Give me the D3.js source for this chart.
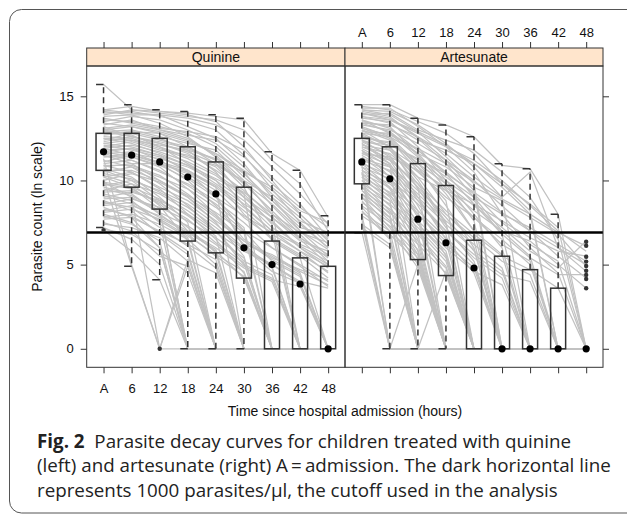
<!DOCTYPE html>
<html>
<head>
<meta charset="utf-8">
<script src="https://cdn.jsdelivr.net/npm/d3@7"></script>
<style>
  body { margin: 0; background: #fff; }
  svg { display: block; }
</style>
</head>
<body>
<svg id="chart" width="627" height="514"></svg>
<script>
// time points (hours since admission)
const times = ['A', '6', '12', '18', '24', '30', '36', '42', '48'];
const yTicks = [0, 5, 10, 15];
const cutoff = 6.91; // ln(1000 parasites/ul)

// box stats, quinine
const quinineLow  = [7.2, 4.9, 4.1, 0, 0, 0, 0, 0, 0];
const quinineQ1   = [10.6, 9.6, 8.3, 6.4, 5.7, 4.2, 0, 0, 0];
const quinineMed  = [11.7, 11.5, 11.1, 10.2, 9.2, 6.0, 5.0, 3.85, 0];
const quinineQ3   = [12.8, 12.8, 12.5, 12.0, 11.1, 9.6, 6.4, 5.4, 4.9];
const quinineHigh = [15.7, 14.5, 14.2, 14.1, 13.9, 13.7, 11.7, 10.6, 7.9];
const quinineOut  = [['A', 7.05], ['12', 0]];

// box stats, artesunate
const artesunateLow  = [6.9, 0, 0, 0, 0, 0, 0, 0, 0];
const artesunateQ1   = [9.8, 6.9, 5.3, 4.35, 0, 0, 0, 0, 0];
const artesunateMed  = [11.1, 10.1, 7.7, 6.3, 4.8, 0, 0, 0, 0];
const artesunateQ3   = [12.5, 12.0, 11.0, 9.7, 6.45, 5.5, 4.7, 3.6, 0];
const artesunateHigh = [14.5, 14.5, 13.7, 13.3, 12.6, 11.0, 10.7, 8.0, 0];
const artesunateOut  = [['48', 6.36], ['48', 6.12], ['48', 5.47], ['48', 5.18], ['48', 4.92],
                        ['48', 4.64], ['48', 4.39], ['48', 4.15], ['48', 3.6]];

// individual patient curves (ln count), a hand-read sample of the grey lines
const quinineCurves = [
  [15.7, 14.2, 14.1, 14.0, 13.8, 13.6, 11.6, 10.6, 7.8],
  [14.2, 14.4, 14.1, 13.9, 13.5, 12.0, 10.0, 8.0, 6.5],
  [14.0, 14.1, 13.8, 13.5, 13.0, 11.5, 9.5, 7.5, 6.0],
  [13.8, 13.9, 13.9, 13.2, 12.5, 11.0, 9.0, 7.0, 5.5],
  [13.6, 13.5, 13.2, 12.8, 12.0, 10.5, 8.5, 6.8, 5.2],
  [13.3, 13.6, 13.0, 12.5, 11.5, 10.0, 8.0, 6.5, 5.0],
  [13.0, 13.2, 12.8, 12.0, 11.0, 9.0, 7.5, 6.0, 4.8],
  [12.8, 12.9, 12.5, 11.8, 10.5, 8.5, 7.0, 5.8, 4.5],
  [12.6, 12.5, 12.0, 11.0, 10.0, 8.0, 6.5, 5.5, 4.2],
  [12.4, 12.8, 12.4, 12.0, 11.2, 9.6, 6.4, 5.4, 0],
  [12.2, 12.0, 11.5, 10.5, 9.0, 7.0, 6.0, 5.0, 4.0],
  [12.0, 12.3, 11.8, 11.5, 10.8, 9.2, 0, 0, 0],
  [11.9, 11.5, 11.0, 10.0, 8.5, 6.5, 5.5, 4.5, 0],
  [11.8, 11.9, 11.2, 10.2, 9.2, 6.0, 5.0, 3.9, 0],
  [11.7, 11.4, 10.8, 9.5, 8.0, 6.2, 4.8, 0, 0],
  [11.6, 11.7, 11.0, 10.5, 9.6, 8.2, 6.8, 5.8, 4.9],
  [11.5, 11.0, 10.0, 9.0, 7.5, 5.5, 0, 0, 0],
  [11.4, 11.6, 11.3, 10.8, 10.0, 8.8, 7.2, 6.2, 5.5],
  [11.2, 10.8, 9.8, 8.5, 7.0, 5.0, 4.2, 0, 0],
  [11.0, 11.2, 10.5, 9.8, 8.8, 7.5, 6.0, 4.9, 3.7],
  [10.9, 10.5, 9.5, 8.0, 6.5, 4.5, 0, 0, 0],
  [10.8, 11.0, 11.0, 10.4, 9.4, 7.8, 6.6, 5.6, 4.6],
  [10.7, 10.2, 9.0, 7.5, 0, 0, 0, 0, 0],
  [10.6, 10.0, 8.8, 7.0, 5.8, 4.2, 0, 0, 0],
  [10.5, 10.8, 10.2, 9.5, 8.4, 7.0, 5.2, 4.3, 0],
  [10.3, 9.8, 8.5, 6.4, 0, 0, 0, 0, 0],
  [10.2, 9.6, 8.3, 0, 0, 0, 0, 0, 0],
  [10.0, 10.4, 9.9, 9.0, 7.8, 6.2, 5.6, 4.6, 3.8],
  [9.8, 9.5, 8.6, 7.2, 5.7, 0, 0, 0, 0],
  [9.6, 9.2, 8.0, 6.8, 5.5, 4.3, 0, 0, 0],
  [9.4, 9.8, 9.2, 8.2, 7.0, 5.2, 4.4, 0, 0],
  [9.2, 8.8, 7.5, 0, 0, 0, 0, 0, 0],
  [9.0, 9.3, 8.8, 8.0, 6.9, 5.8, 5.0, 4.0, 3.6],
  [8.8, 8.2, 6.8, 5.6, 0, 0, 0, 0, 0],
  [8.6, 8.9, 8.4, 7.6, 6.6, 5.4, 0, 0, 0],
  [8.4, 7.8, 6.0, 0, 0, 0, 0, 0, 0],
  [8.2, 8.5, 7.9, 7.0, 6.0, 4.8, 4.0, 0, 0],
  [8.0, 7.5, 6.0, 0, 0, 0, 0, 0, 0],
  [7.8, 8.0, 7.4, 6.5, 5.0, 0, 0, 0, 0],
  [7.5, 7.0, 5.5, 4.9, 0, 0, 0, 0, 0],
  [7.2, 6.5, 5.0, 0, 0, 0, 0, 0, 0],
  [7.05, 5.8, 4.1, 0, 0, 0, 0, 0, 0],
  [13.5, 13.8, 13.6, 13.0, 12.2, 10.8, 9.2, 7.8, 6.2],
  [13.2, 12.6, 12.2, 11.6, 10.6, 9.4, 7.8, 6.4, 5.8],
  [12.9, 13.0, 12.6, 12.2, 11.8, 10.2, 8.8, 7.2, 6.8],
  [14.1, 13.9, 13.4, 12.6, 11.4, 9.8, 8.2, 6.6, 5.4],
  [12.5, 12.2, 11.6, 10.9, 9.8, 8.6, 7.6, 6.0, 5.0],
  [11.3, 5.0, 0, 4.9, 0, 0, 0, 0, 0],
  [10.1, 4.9, 0, 0, 0, 0, 0, 0, 0],
  [9.9, 9.0, 0, 5.3, 4.5, 0, 0, 0, 0],
  [14.2, 14.0, 13.9, 13.7, 13.3, 12.4, 10.8, 9.2, 7.4],
  [13.9, 14.2, 14.0, 13.8, 13.6, 13.0, 11.2, 9.8, 7.0],
  [13.7, 13.4, 13.1, 12.9, 12.6, 11.8, 10.2, 8.6, 6.6],
  [13.4, 13.2, 12.9, 12.4, 11.6, 10.4, 8.8, 7.4, 6.0],
  [13.1, 13.3, 13.0, 12.7, 12.4, 11.4, 9.8, 8.4, 7.2],
  [12.9, 12.6, 12.3, 11.9, 11.2, 9.8, 8.2, 0, 0],
  [12.7, 12.9, 12.8, 12.3, 11.6, 10.6, 9.4, 8.0, 6.4],
  [12.5, 12.4, 11.9, 11.3, 10.4, 9.2, 7.4, 0, 0],
  [12.3, 12.6, 12.2, 11.7, 11.0, 9.9, 8.6, 7.0, 5.9],
  [12.1, 11.8, 11.4, 10.6, 9.6, 0, 0, 0, 0],
  [11.9, 12.1, 11.7, 11.1, 10.3, 9.0, 7.8, 6.6, 5.6],
  [11.6, 11.2, 10.6, 9.7, 8.6, 7.2, 0, 0, 0],
  [11.4, 11.4, 10.9, 10.1, 9.0, 7.9, 6.9, 0, 0],
  [11.1, 11.5, 11.1, 10.6, 9.7, 8.4, 7.0, 6.1, 5.2],
  [10.9, 10.9, 10.3, 9.2, 7.9, 6.4, 5.3, 4.4, 0],
  [10.6, 10.6, 10.0, 9.1, 8.1, 6.9, 0, 0, 0],
  [10.4, 10.1, 9.3, 8.4, 7.2, 5.9, 4.9, 0, 0],
  [10.2, 10.5, 9.6, 8.8, 7.6, 6.4, 5.4, 4.7, 4.1],
  [9.9, 9.6, 8.9, 7.9, 6.7, 0, 0, 0, 0],
  [9.7, 10.0, 9.4, 8.6, 7.4, 6.0, 4.6, 3.9, 0],
  [9.5, 9.1, 8.2, 0, 0, 0, 0, 0, 0],
  [9.3, 9.4, 8.7, 7.7, 6.3, 5.1, 0, 0, 0],
  [9.1, 8.6, 7.6, 6.6, 0, 0, 0, 0, 0],
  [8.9, 9.0, 8.1, 7.3, 6.2, 4.9, 4.1, 3.7, 0],
  [8.7, 8.4, 7.2, 6.1, 4.8, 0, 0, 0, 0],
  [8.5, 8.7, 7.8, 6.9, 5.9, 0, 0, 0, 0],
  [8.3, 7.9, 6.9, 5.8, 0, 0, 0, 0, 0],
  [8.1, 8.3, 7.7, 6.7, 5.6, 4.6, 0, 0, 0],
  [7.9, 7.4, 6.4, 0, 0, 0, 0, 0, 0],
  [7.7, 7.8, 7.0, 6.2, 5.3, 0, 0, 0, 0],
  [7.4, 7.2, 6.6, 5.2, 0, 0, 0, 0, 0],
  [7.1, 6.8, 5.8, 4.5, 0, 0, 0, 0, 0],
  [13.0, 12.7, 12.0, 11.4, 10.9, 10.0, 9.0, 7.6, 6.9],
  [12.2, 12.4, 12.1, 11.8, 11.3, 10.5, 9.6, 8.2, 7.5],
  [11.7, 11.9, 11.5, 10.9, 10.1, 9.3, 8.0, 6.9, 6.3]
];

const artesunateCurves = [
  [14.5, 14.5, 13.7, 13.3, 12.6, 10.9, 10.7, 8.0, 0],
  [14.3, 14.3, 13.2, 12.0, 10.5, 8.0, 6.0, 4.5, 0],
  [14.1, 13.8, 12.5, 11.0, 9.0, 7.0, 5.5, 0, 0],
  [13.9, 14.0, 13.0, 12.4, 11.8, 10.5, 9.0, 6.5, 0],
  [13.7, 13.5, 12.0, 10.0, 8.0, 6.0, 0, 0, 0],
  [13.5, 13.2, 11.5, 9.5, 7.0, 0, 0, 0, 0],
  [13.3, 13.0, 12.2, 11.2, 10.0, 8.5, 7.0, 5.5, 4.2],
  [13.1, 12.5, 10.8, 8.5, 6.0, 0, 0, 0, 0],
  [12.9, 12.8, 11.8, 10.5, 9.2, 7.5, 6.2, 5.2, 0],
  [12.7, 12.0, 10.0, 7.5, 0, 0, 0, 0, 0],
  [12.5, 12.3, 11.0, 9.8, 8.5, 7.2, 5.8, 4.8, 6.4],
  [12.3, 11.5, 9.0, 6.5, 4.5, 0, 0, 0, 0],
  [12.1, 11.8, 10.5, 9.0, 7.8, 6.5, 5.0, 0, 0],
  [11.9, 11.0, 8.5, 5.5, 0, 0, 0, 0, 0],
  [11.7, 11.2, 9.8, 8.2, 6.8, 5.5, 4.7, 3.6, 0],
  [11.5, 10.5, 7.8, 0, 0, 0, 0, 0, 0],
  [11.3, 10.8, 9.2, 7.6, 6.2, 4.8, 0, 0, 0],
  [11.1, 10.0, 7.0, 4.4, 0, 0, 0, 0, 0],
  [11.0, 10.3, 8.8, 7.0, 5.6, 4.4, 4.0, 0, 0],
  [10.8, 9.5, 6.5, 0, 0, 0, 0, 0, 0],
  [10.6, 9.8, 8.2, 6.6, 5.0, 0, 0, 0, 0],
  [10.4, 9.0, 5.8, 0, 0, 0, 0, 0, 0],
  [10.2, 9.3, 7.6, 6.0, 4.6, 3.8, 0, 0, 0],
  [10.0, 8.5, 5.3, 0, 0, 0, 0, 0, 0],
  [9.8, 8.8, 7.2, 5.4, 0, 0, 0, 0, 0],
  [9.6, 8.0, 0, 0, 0, 0, 0, 0, 0],
  [9.4, 8.3, 6.8, 4.9, 0, 0, 0, 0, 0],
  [9.2, 7.6, 5.0, 0, 0, 0, 0, 0, 0],
  [9.0, 7.8, 6.2, 4.5, 0, 0, 0, 0, 0],
  [8.8, 7.0, 0, 0, 0, 0, 0, 0, 0],
  [8.5, 7.3, 5.6, 0, 0, 0, 0, 0, 0],
  [8.2, 6.5, 0, 0, 0, 0, 0, 0, 0],
  [7.9, 6.8, 5.1, 0, 0, 0, 0, 0, 0],
  [7.5, 0, 0, 0, 0, 0, 0, 0, 0],
  [7.2, 6.0, 0, 0, 0, 0, 0, 0, 0],
  [6.95, 0, 0, 0, 0, 0, 0, 0, 0],
  [14.0, 13.6, 12.8, 12.0, 11.2, 10.0, 8.5, 7.0, 5.8],
  [13.6, 12.8, 11.4, 10.2, 9.0, 8.0, 7.2, 6.2, 5.2],
  [12.8, 12.6, 11.6, 10.8, 9.6, 8.8, 7.8, 6.8, 4.9],
  [12.0, 11.6, 10.2, 9.4, 8.6, 7.6, 6.6, 5.8, 5.5],
  [13.4, 13.3, 12.6, 11.6, 10.2, 9.0, 10.5, 6.0, 4.6],
  [12.6, 12.2, 11.2, 10.0, 8.8, 6.8, 5.4, 4.4, 4.4],
  [11.6, 11.4, 10.6, 9.6, 8.2, 7.0, 6.4, 5.0, 3.6],
  [14.2, 13.9, 12.9, 11.4, 9.8, 0, 0, 0, 0],
  [13.0, 12.0, 9.5, 7.2, 5.2, 0, 0, 0, 0],
  [12.2, 11.0, 0, 0, 0, 0, 0, 0, 0],
  [10.9, 0, 0, 0, 0, 0, 0, 0, 0],
  [12.4, 11.4, 9.6, 0, 0, 0, 0, 0, 0],
  [13.8, 13.4, 12.4, 11.8, 11.0, 9.6, 8.0, 0, 0],
  [11.8, 10.2, 8.0, 6.4, 0, 0, 0, 0, 0],
  [14.4, 14.2, 13.5, 12.8, 11.6, 9.8, 8.2, 0, 0],
  [14.2, 14.1, 13.3, 12.2, 10.8, 9.0, 0, 0, 0],
  [14.0, 13.7, 12.6, 11.2, 9.4, 0, 0, 0, 0],
  [13.8, 13.6, 12.9, 12.1, 11.0, 9.8, 8.6, 7.2, 0],
  [13.6, 13.1, 11.8, 10.4, 8.6, 6.8, 0, 0, 0],
  [13.4, 12.9, 11.6, 9.8, 7.6, 0, 0, 0, 0],
  [13.2, 12.6, 11.0, 9.2, 7.0, 5.6, 0, 0, 0],
  [13.0, 12.4, 10.6, 8.8, 0, 0, 0, 0, 0],
  [12.8, 12.0, 10.2, 8.0, 6.4, 0, 0, 0, 0],
  [12.6, 11.8, 9.8, 7.4, 0, 0, 0, 0, 0],
  [12.4, 11.9, 10.8, 9.4, 7.8, 6.2, 5.2, 0, 0],
  [12.2, 11.2, 8.8, 6.8, 0, 0, 0, 0, 0],
  [12.0, 11.3, 9.6, 7.8, 5.8, 4.6, 0, 0, 0],
  [11.8, 10.8, 8.2, 0, 0, 0, 0, 0, 0],
  [11.6, 10.9, 9.4, 8.0, 6.6, 5.2, 4.4, 0, 0],
  [11.4, 10.2, 7.4, 5.6, 0, 0, 0, 0, 0],
  [11.2, 10.6, 9.0, 7.4, 5.9, 0, 0, 0, 0],
  [11.0, 9.6, 6.8, 0, 0, 0, 0, 0, 0],
  [10.8, 10.1, 8.6, 7.0, 5.4, 4.2, 0, 0, 0],
  [10.6, 9.2, 6.2, 0, 0, 0, 0, 0, 0],
  [10.4, 9.6, 8.0, 6.2, 4.8, 0, 0, 0, 0],
  [10.2, 8.8, 0, 0, 0, 0, 0, 0, 0],
  [10.0, 9.1, 7.4, 5.8, 0, 0, 0, 0, 0],
  [9.8, 8.2, 5.6, 0, 0, 0, 0, 0, 0],
  [9.6, 8.6, 7.0, 5.2, 0, 0, 0, 0, 0],
  [9.4, 7.8, 0, 0, 0, 0, 0, 0, 0],
  [9.2, 8.1, 6.4, 4.8, 0, 0, 0, 0, 0],
  [9.0, 7.2, 4.8, 0, 0, 0, 0, 0, 0],
  [8.7, 7.5, 5.9, 0, 0, 0, 0, 0, 0],
  [8.4, 6.6, 0, 0, 0, 0, 0, 0, 0],
  [8.1, 7.0, 5.4, 0, 0, 0, 0, 0, 0],
  [7.7, 0, 0, 0, 0, 0, 0, 0, 0],
  [7.4, 6.2, 0, 0, 0, 0, 0, 0, 0],
  [13.1, 12.7, 11.9, 11.0, 9.9, 8.9, 8.0, 6.9, 6.1],
  [12.3, 12.1, 11.3, 10.4, 9.3, 8.1, 7.0, 6.0, 5.0],
  [10.5, 0, 5.0, 0, 0, 0, 0, 0, 0],
  [8.0, 0, 0, 4.6, 0, 0, 0, 0, 0]
];

const svg = d3.select('#chart');
const font = 'Liberation Sans, Arial, sans-serif';

// layout
const panelL = 86.7, panelM = 345, panelR = 603;
const stripTop = 48, panelTop = 66, panelBottom = 367.3;
const boxW = 15;
const ink = '#333';

// rounded frame (right side runs off the picture)
svg.append('path')
  .attr('d', 'M640,9.5 H21.5 A12,12 0 0 0 9.5,21.5 V501 A12,12 0 0 0 21.5,513 H640')
  .attr('fill', 'none')
  .attr('stroke', '#555')
  .attr('stroke-width', 1);

const y = d3.scaleLinear().domain([-1.1, 16.8]).range([panelBottom, panelTop]);

function drawPanel(x0, x1, name, low, q1, med, q3, high, outs, curves, opts) {
  const x = d3.scalePoint().domain(times).range([x0, x1]).padding(0.6);
  const g = svg.append('g');

  // clip for the panel area
  const clipId = 'clip-' + name;
  svg.append('clipPath').attr('id', clipId)
    .append('rect').attr('x', x0).attr('y', panelTop).attr('width', x1 - x0).attr('height', panelBottom - panelTop);
  const inner = g.append('g').attr('clip-path', 'url(#' + clipId + ')');

  // grey patient curves
  const line = d3.line().x((d, i) => x(times[i])).y(d => y(d));
  inner.append('g')
    .selectAll('path')
    .data(curves)
    .join('path')
    .attr('d', line)
    .attr('fill', 'none')
    .attr('stroke', '#c2c2c2')
    .attr('stroke-width', 1.25);

  const stats = times.map((t, i) => ({t, low: low[i], q1: q1[i], med: med[i], q3: q3[i], high: high[i]}));

  // whiskers, dashed, with half caps on the left
  const wh = inner.append('g').attr('stroke', ink).attr('stroke-width', 1.5).attr('fill', 'none');
  stats.forEach(s => {
    const cx = x(s.t);
    if (s.high > s.q3) {
      wh.append('line').attr('x1', cx).attr('x2', cx).attr('y1', y(s.q3)).attr('y2', y(s.high))
        .attr('stroke-dasharray', '6,4');
      wh.append('line').attr('x1', cx - boxW / 2).attr('x2', cx).attr('y1', y(s.high)).attr('y2', y(s.high));
    }
    if (s.low < s.q1) {
      wh.append('line').attr('x1', cx).attr('x2', cx).attr('y1', y(s.q1)).attr('y2', y(s.low))
        .attr('stroke-dasharray', '6,4');
      wh.append('line').attr('x1', cx - boxW / 2).attr('x2', cx).attr('y1', y(s.low)).attr('y2', y(s.low));
    }
  });

  // boxes
  inner.append('g')
    .selectAll('rect')
    .data(stats)
    .join('rect')
    .attr('x', d => x(d.t) - boxW / 2)
    .attr('width', boxW)
    .attr('y', d => y(d.q3))
    .attr('height', d => Math.max(0, y(d.q1) - y(d.q3)))
    .attr('fill', 'none')
    .attr('stroke', ink)
    .attr('stroke-width', 1.5);

  // cutoff line
  inner.append('line')
    .attr('x1', x0).attr('x2', x1)
    .attr('y1', y(cutoff)).attr('y2', y(cutoff))
    .attr('stroke', '#000').attr('stroke-width', 2.5);

  // outliers
  inner.append('g')
    .selectAll('circle')
    .data(outs)
    .join('circle')
    .attr('cx', d => x(d[0]))
    .attr('cy', d => y(d[1]))
    .attr('r', 2.2)
    .attr('fill', ink);

  // medians
  inner.append('g')
    .selectAll('circle')
    .data(stats)
    .join('circle')
    .attr('cx', d => x(d.t))
    .attr('cy', d => y(d.med))
    .attr('r', 3.6)
    .attr('fill', '#000');

  // strip
  g.append('rect')
    .attr('x', x0).attr('y', stripTop).attr('width', x1 - x0).attr('height', panelTop - stripTop)
    .attr('fill', '#ffe5cc').attr('stroke', ink).attr('stroke-width', 1);
  g.append('text')
    .attr('x', (x0 + x1) / 2).attr('y', stripTop + 13.5)
    .attr('text-anchor', 'middle')
    .style('font', '14px ' + font)
    .attr('fill', '#111')
    .text(name);

  // panel border
  g.append('rect')
    .attr('x', x0).attr('y', panelTop).attr('width', x1 - x0).attr('height', panelBottom - panelTop)
    .attr('fill', 'none').attr('stroke', ink).attr('stroke-width', 1);

  // axes
  const bottom = d3.axisBottom(x).tickSize(6).tickPadding(10);
  if (!opts.bottomLabels) bottom.tickFormat('');
  const top = d3.axisTop(x).tickSize(6).tickPadding(5.5);
  if (!opts.topLabels) top.tickFormat('');

  const axes = [
    g.append('g').attr('transform', `translate(0,${panelBottom})`).call(bottom),
    g.append('g').attr('transform', `translate(0,${stripTop})`).call(top)
  ];
  if (opts.left) {
    axes.push(g.append('g').attr('transform', `translate(${x0},0)`)
      .call(d3.axisLeft(y).tickValues(yTicks).tickSize(6).tickPadding(7)));
  }
  if (opts.right) {
    axes.push(g.append('g').attr('transform', `translate(${x1},0)`)
      .call(d3.axisRight(y).tickValues(yTicks).tickSize(6).tickFormat('')));
  }
  axes.forEach(a => {
    a.select('.domain').remove();
    a.selectAll('line').attr('stroke', ink);
    a.selectAll('text').style('font', '13px ' + font).attr('fill', '#111');
  });
}

drawPanel(panelL, panelM, 'Quinine', quinineLow, quinineQ1, quinineMed, quinineQ3, quinineHigh,
  quinineOut, quinineCurves, {bottomLabels: true, topLabels: false, left: true, right: false});
drawPanel(panelM, panelR, 'Artesunate', artesunateLow, artesunateQ1, artesunateMed, artesunateQ3, artesunateHigh,
  artesunateOut, artesunateCurves, {bottomLabels: false, topLabels: true, left: false, right: true});

// axis titles
svg.append('text')
  .attr('x', panelM).attr('y', 416)
  .attr('text-anchor', 'middle')
  .style('font', '14px ' + font)
  .attr('fill', '#111')
  .text('Time since hospital admission (hours)');

svg.append('text')
  .attr('transform', `translate(42,${(panelTop + panelBottom) / 2}) rotate(-90)`)
  .attr('text-anchor', 'middle')
  .style('font', '14px ' + font)
  .attr('fill', '#111')
  .text('Parasite count (ln scale)');

// caption
const capLines = [
  [['Fig. 2', true], ['  Parasite decay curves for children treated with quinine', false]],
  [['(left) and artesunate (right) A\u2009=\u2009admission. The dark horizontal line', false]],
  [['represents 1000 parasites/\u00b5l, the cutoff used in the analysis', false]]
];
const cap = svg.append('g').style('font-family', '"Open Sans", sans-serif').attr('fill', '#222');
const capTexts = capLines.map((parts, i) => {
  const t = cap.append('text').attr('x', 37).attr('y', 447.5 + i * 24.5).attr('xml:space', 'preserve')
    .style('font-size', '18px');
  parts.forEach(p => t.append('tspan').style('font-weight', p[1] ? 700 : 400).text(p[0]));
  return t;
});
// fit size so the longest line spans like the original
const w = capTexts[1].node().getComputedTextLength();
const fs = 18 * 574 / w;
capTexts.forEach(t => t.style('font-size', fs + 'px'));
</script>
</body>
</html>
